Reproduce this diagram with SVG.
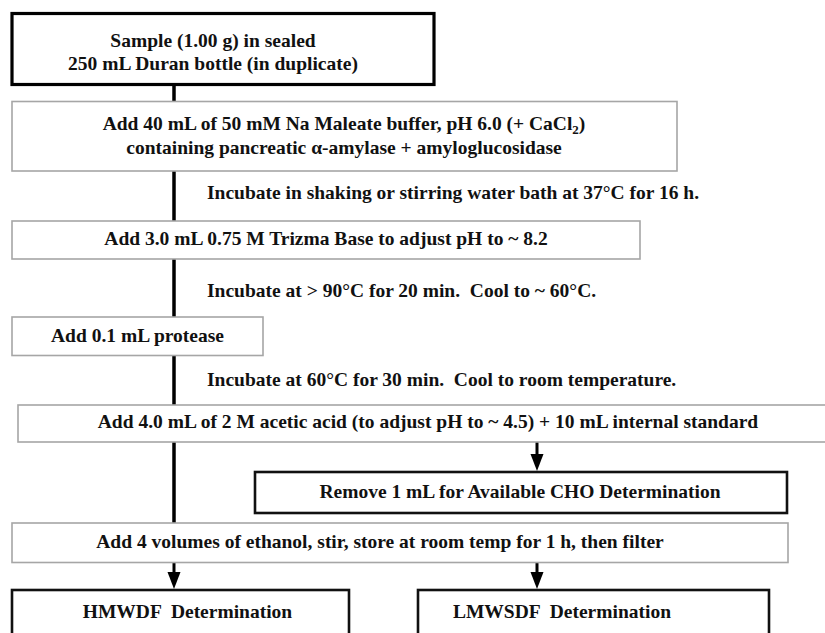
<svg xmlns="http://www.w3.org/2000/svg" width="825" height="633" viewBox="0 0 825 633">
<style>
text{font-family:"Liberation Serif","Times New Roman",serif;font-weight:bold;font-size:19.5px;fill:#111;white-space:pre}
.c{text-anchor:middle}
.thick{fill:#fff;stroke:#000;stroke-width:3.2}
.dark{fill:#fff;stroke:#111;stroke-width:2.6}
.light{fill:#fff;stroke:#a6a6a6;stroke-width:1.6}
.ln{stroke:#000;stroke-width:3.5;fill:none}
.ar{stroke:#000;stroke-width:3;fill:none;marker-end:url(#ah)}
</style>
<defs>
<marker id="ah" markerUnits="userSpaceOnUse" viewBox="0 -7 18 14" markerWidth="18" markerHeight="14" refX="9" refY="0" orient="auto">
<path d="M0,-6.5 L17,0 L0,6.5 z" fill="#000"/>
</marker>
</defs>
<g id="connectors">
<line class="ln" x1="174" y1="85" x2="174" y2="101"/>
<line class="ln" x1="174" y1="171" x2="174" y2="221"/>
<line class="ln" x1="174" y1="259" x2="174" y2="317"/>
<line class="ln" x1="174" y1="356" x2="174" y2="405"/>
<line class="ln" x1="174" y1="442" x2="174" y2="523"/>
<line class="ar" x1="537" y1="442" x2="537" y2="463"/>
<line class="ar" x1="174" y1="563" x2="174" y2="581"/>
<line class="ar" x1="537" y1="563" x2="537" y2="581"/>
</g>
<g id="sample">
<rect class="thick" x="12" y="13.5" width="422" height="71"/>
<text class="c" x="213" y="47">Sample (1.00 g) in sealed</text>
<text class="c" x="213" y="70">250 mL Duran bottle (in duplicate)</text>
</g>
<g id="buffer">
<rect class="light" x="12" y="101.5" width="665" height="69.5"/>
<text class="c" x="344" y="130">Add 40 mL of 50 mM Na Maleate buffer, pH 6.0 (+ CaCl<tspan font-size="13" dy="4">2</tspan><tspan dy="-4">)</tspan></text>
<text class="c" x="344" y="154">containing pancreatic α-amylase + amyloglucosidase</text>
</g>
<g id="step1">
<text x="207" y="199">Incubate in shaking or stirring water bath at 37°C for 16 h.</text>
</g>
<g id="trizma">
<rect class="light" x="12" y="221" width="628" height="38"/>
<text class="c" x="326" y="245">Add 3.0 mL 0.75 M Trizma Base to adjust pH to ~ 8.2</text>
</g>
<g id="step2">
<text x="207" y="297">Incubate at &gt; 90°C for 20 min.  Cool to ~ 60°C.</text>
</g>
<g id="protease">
<rect class="light" x="12" y="317" width="251" height="38.5"/>
<text class="c" x="137.5" y="342">Add 0.1 mL protease</text>
</g>
<g id="step3">
<text x="207" y="386">Incubate at 60°C for 30 min.  Cool to room temperature.</text>
</g>
<g id="acetic">
<rect class="light" x="18" y="405" width="820" height="37"/>
<text class="c" x="428" y="428">Add 4.0 mL of 2 M acetic acid (to adjust pH to ~ 4.5) + 10 mL internal standard</text>
</g>
<g id="remove">
<rect class="dark" x="255" y="472" width="532" height="41"/>
<text class="c" x="520" y="498">Remove 1 mL for Available CHO Determination</text>
</g>
<g id="ethanol">
<rect class="light" x="12" y="523" width="776" height="39.5"/>
<text class="c" x="380" y="548">Add 4 volumes of ethanol, stir, store at room temp for 1 h, then filter</text>
</g>
<g id="hmwdf">
<rect class="dark" x="12" y="590" width="337" height="60"/>
<text class="c" x="187.5" y="618">HMWDF  Determination</text>
</g>
<g id="lmwsdf">
<rect class="dark" x="418" y="590" width="351" height="60"/>
<text class="c" x="562" y="618">LMWSDF  Determination</text>
</g>
</svg>
